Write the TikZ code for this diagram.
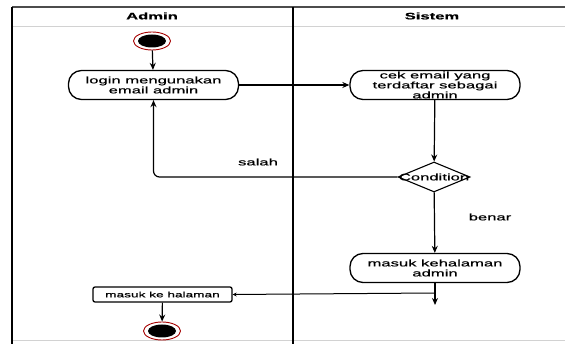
\documentclass[tikz,border=0pt]{standalone}
\usepackage{fontspec}
\setmainfont{Liberation Sans}[FakeStretch=1.75, FakeBold=0.5]
\usetikzlibrary{shapes.geometric,arrows.meta}

\begin{document}
\begin{tikzpicture}[x=1pt,y=-1pt,
    attivita/.style={draw, line width=1.3pt, rounded corners=13pt, minimum width=170pt,
        minimum height=29pt, inner sep=0pt, align=center,
        font=\fontsize{9.5}{10}\selectfont},
    azione/.style={draw, line width=1.3pt, rounded corners=2pt, minimum width=139pt,
        minimum height=15pt, inner sep=0pt, font=\fontsize{7.8}{9}\selectfont},
    decisione/.style={diamond, draw, line width=1.1pt, minimum width=72pt,
        minimum height=30pt, inner sep=0pt, font=\fontsize{9.5}{10}\selectfont},
    stato/.style={ellipse, draw=red!65!black, line width=0.9pt, fill=white,
        minimum width=37pt, minimum height=18pt, inner sep=0pt,
        path picture={\fill[black] (path picture bounding box.center) ellipse (14pt and 6.5pt);}},
    etichetta/.style={font=\fontsize{9.5}{10}\selectfont, inner sep=0pt},
    intestazione/.style={font=\bfseries\fontsize{9.5}{10}\selectfont, inner sep=0pt},
    freccia/.style={line width=1.2pt, -{Stealth[length=7pt,width=6pt]}}
]
    \useasboundingbox (0,0) rectangle (565,344);

    % Corsie (swimlane) Admin / Sistem
    \draw[gray!60!black, line width=1.2pt] (12,7) -- (565,7);
    \draw[gray!35, line width=0.8pt] (12,26) -- (565,26);
    \draw[gray!35, line width=0.8pt] (12,340) -- (565,340);
    \draw[line width=1.8pt] (12,7) -- (12,344);
    \draw[line width=1.8pt] (293,7) -- (293,344);
    \node[intestazione] (admin) at (152,16) {Admin};
    \node[intestazione] (sistem) at (432,16) {Sistem};

    % Nodi del flusso
    \node[stato] (inizio) at (152,41) {};
    \node[attivita] (login) at (153.5,85) {login mengunakan\\email admin};
    \node[attivita] (cek) at (435,85) {cek email yang\\terdaftar sebagai\\admin};
    \node[decisione] (cond) at (434,177) {\makebox[0pt]{Condition}};
    \node[attivita] (masuk) at (435,268) {masuk kehalaman\\admin};
    \node[azione] (halaman) at (162.5,294.5) {masuk ke halaman};
    \node[stato] (fine) at (162,331) {};

    % Punti liberi
    \coordinate (giunto) at (435,293);
    \coordinate (uscita) at (435,305);

    % Archi
    \draw[freccia] (inizio) -- (login);
    \draw[freccia] (login) -- (cek);
    \draw[freccia] (cek) -- (cond);
    \draw[freccia, rounded corners=6pt] (cond.west) -| (login.south);
    \draw[freccia] (cond) -- (masuk);
    \draw[freccia] (masuk) -- (uscita);
    \draw[line width=1pt, -{Stealth[length=4pt,width=4pt]}] (giunto) -- (halaman.east);
    \draw[freccia] (halaman) -- (fine);

    % Guardie
    \node[etichetta] (salah) at (258,162) {salah};
    \node[etichetta] (benar) at (490,217) {benar};

\end{tikzpicture}
\end{document}
